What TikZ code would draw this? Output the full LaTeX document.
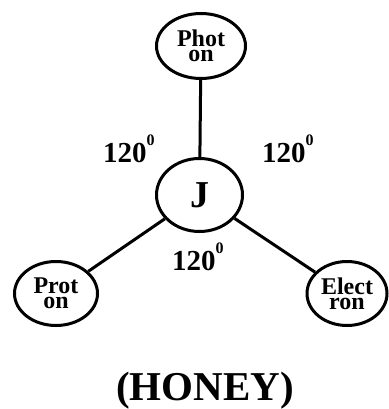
\documentclass[tikz,border=0pt]{standalone}
\usepackage{fontspec}
\setmainfont{Liberation Serif}
\usetikzlibrary{shapes.geometric}
\newcommand{\degsup}{\raisebox{17pt}{\fontsize{16}{16}\selectfont 0}}
\tikzset{
  particle/.style={draw=black, line width=3pt, ellipse, inner sep=0pt, align=center,
    font=\bfseries\fontsize{24}{15}\selectfont},
  link/.style={draw=black, line width=3pt},
  angle/.style={anchor=base west, inner sep=0pt, font=\bfseries\fontsize{29}{29}\selectfont},
}
\begin{document}
\begin{tikzpicture}[x=1pt, y=-1pt]
\useasboundingbox (0,0) rectangle (388,409);
\node[particle, minimum width=89pt, minimum height=65pt] (photon) at (201,46) {Phot\\on};
\node[particle, minimum width=86pt, minimum height=73pt, font=\bfseries\fontsize{38}{38}\selectfont] (j) at (199.5,195) {J};
\node[particle, minimum width=83pt, minimum height=64pt] (proton) at (56,293.5) {Prot\\on};
\node[particle, minimum width=80pt, minimum height=64pt] (electron) at (347,293.5) {Elect\\ron};
\draw[link] (j) -- (photon);
\draw[link] (j) -- (proton);
\draw[link] (j) -- (electron);
\node[angle] (a1) at (103,162) {120\degsup};
\node[angle] (a2) at (262,162) {120\degsup};
\node[angle] (a3) at (172,270) {120\degsup};
\node[font=\bfseries\fontsize{41}{41}\selectfont, anchor=base] (title) at (205,400) {(HONEY)};
\end{tikzpicture}
\end{document}
